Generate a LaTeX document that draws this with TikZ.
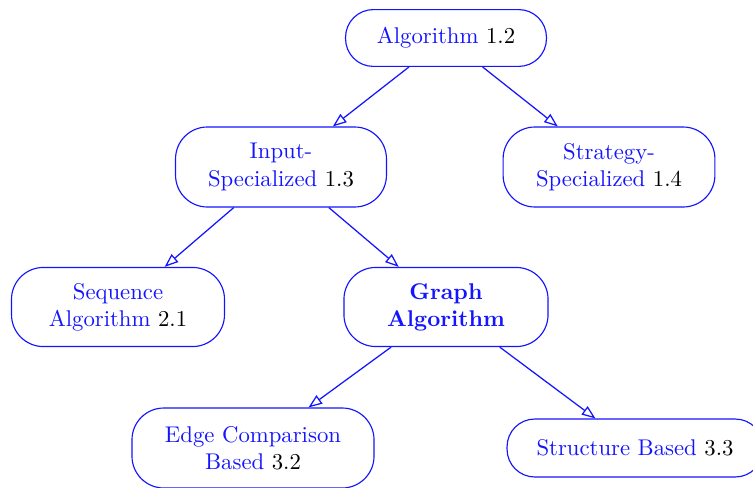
\documentclass[tikz,border=0pt]{standalone}
\usetikzlibrary{arrows.meta}
\definecolor{nodeblue}{RGB}{20,20,255}
\begin{document}
\begin{tikzpicture}[x=0.44pt,y=-0.44pt,
  box/.style={draw=nodeblue, line width=0.5pt, rounded corners=14pt,
    text=nodeblue, align=center, inner sep=0pt, font=\normalsize},
  flatbox/.style={box, rounded corners=12.2pt},
  link/.style={draw=nodeblue, line width=0.55pt,
    -{Triangle[open,length=6pt,width=4.5pt]}}]
  \useasboundingbox (0,0) rectangle (753,487);
  \node[flatbox, minimum width=88.4pt, minimum height=25pt] (alg) at (446,38)
    {Algorithm \textcolor{black}{1.2}};
  \node[box, minimum width=92.8pt, minimum height=35.2pt] (inp) at (281,167)
    {Input-\\Specialized \textcolor{black}{1.3}};
  \node[box, minimum width=93.2pt, minimum height=35.2pt] (str) at (609,167)
    {Strategy-\\Specialized \textcolor{black}{1.4}};
  \node[box, minimum width=93.7pt, minimum height=34.8pt] (seq) at (118,307)
    {Sequence\\Algorithm \textcolor{black}{2.1}};
  \node[box, minimum width=89.8pt, minimum height=34.8pt, font=\bfseries] (gra) at (446,307)
    {Graph\\Algorithm};
  \node[box, minimum width=106.5pt, minimum height=35.2pt] (edg) at (253,448)
    {Edge Comparison\\Based \textcolor{black}{3.2}};
  \node[flatbox, minimum width=112.6pt, minimum height=25.5pt] (stb) at (635,448)
    {Structure Based \textcolor{black}{3.3}};
  \draw[link] (alg) -- (inp);
  \draw[link] (alg) -- (str);
  \draw[link] (inp) -- (seq);
  \draw[link] (inp) -- (gra);
  \draw[link] (gra) -- (edg);
  \draw[link] (gra) -- (stb);
\end{tikzpicture}
\end{document}
